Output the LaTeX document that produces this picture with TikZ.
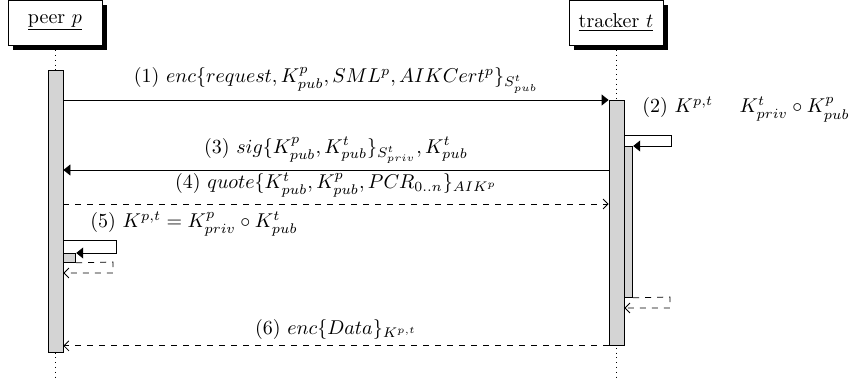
\documentclass[tikz,border=0pt]{standalone}
\usepackage{amsmath}
\usetikzlibrary{
    arrows.meta,
    positioning,
    shadows
}

\begin{document}
\begin{tikzpicture}[
x=0.5pt, y=-0.5pt,
obj/.style={
draw,
fill=white,
minimum width=47pt,
minimum height=22.5pt,
drop shadow={shadow xshift=2.5pt, shadow yshift=-2.5pt, fill=black, opacity=1}
},
bar/.style={
draw,
fill=black!17,
inner sep=0pt
},
life/.style={dotted},
call/.style={-{Triangle[length=3.5pt,width=5.5pt]}},
ret/.style={dashed, -{Straight Barb[length=2.5pt,width=5pt]}},
msg/.style={midway, above, inner sep=3pt}
]

\useasboundingbox (0,0) rectangle (856,383);

% objects
\node[obj] (peer) at (55,22.5)
{\underline{peer $p$}};

\node[obj] (tracker) at (616,22.5)
{\underline{tracker $t$}};

% lifelines
\coordinate (end) at (0,380);
\draw[life] (peer.south) -- (peer.south |- end);
\draw[life] (tracker.south) -- (tracker.south |- end);

% activations
\node[bar, minimum width=7.5pt, minimum height=141pt, anchor=north]
(pbar) at (55.5,70) {};

\node[bar, minimum width=7.5pt, minimum height=122.5pt, anchor=north]
(tbar) at (616.5,100) {};

\node[bar, minimum width=4pt, minimum height=75.5pt, anchor=north west]
(tsub) at (tbar.east |- 0,146) {};

\node[bar, minimum width=6pt, minimum height=4.5pt, anchor=north west]
(psub) at (pbar.east |- 0,253) {};

% message levels
\coordinate (m3) at (0,170);
\coordinate (m4) at (0,204);
\coordinate (l2) at (671,135);
\coordinate (r2) at (670,297);
\coordinate (r2b) at (0,308);
\coordinate (l5) at (116,240);
\coordinate (r5) at (113,262);
\coordinate (r5b) at (0,273);

% (1)
\draw[call] (pbar.east |- tbar.north) -- (tbar.north west)
node[msg] {$(1)\ enc\{request, K^p_{pub}, SML^p, AIKCert^p\}_{S^t_{pub}}$};

% (2)
\draw[call] (tbar.east |- l2) -- (l2) |- (tsub.north east);
\node[anchor=base west, inner sep=0pt] (lbl2) at (642,113)
{$(2)\ K^{p,t} \mathrel{\phantom{=}} K^t_{priv} \circ K^p_{pub}$};

% (3)
\draw[call] (tbar.west |- m3) -- (pbar.east |- m3)
node[msg] {$(3)\ sig\{K^p_{pub}, K^t_{pub}\}_{S^t_{priv}}, K^t_{pub}$};

% (4)
\draw[ret] (pbar.east |- m4) -- (tbar.west |- m4)
node[msg] {$(4)\ quote\{K^t_{pub}, K^p_{pub}, PCR_{0..n}\}_{AIK^p}$};

% (5)
\draw[call] (pbar.east |- l5) -- (l5) |- (psub.north east);
\draw[ret] (psub.south east) -- (r5) |- (pbar.east |- r5b);
\node[anchor=base west, inner sep=0pt] (lbl5) at (90,228)
{$(5)\ K^{p,t} = K^p_{priv} \circ K^t_{pub}$};

% return of (2)
\draw[ret] (tsub.south east) -- (r2) |- (tbar.east |- r2b);

% (6)
\draw[ret] (tbar.south west) -- (pbar.east |- tbar.south)
node[msg] {$(6)\ enc\{Data\}_{K^{p,t}}$};

\end{tikzpicture}
\end{document}
